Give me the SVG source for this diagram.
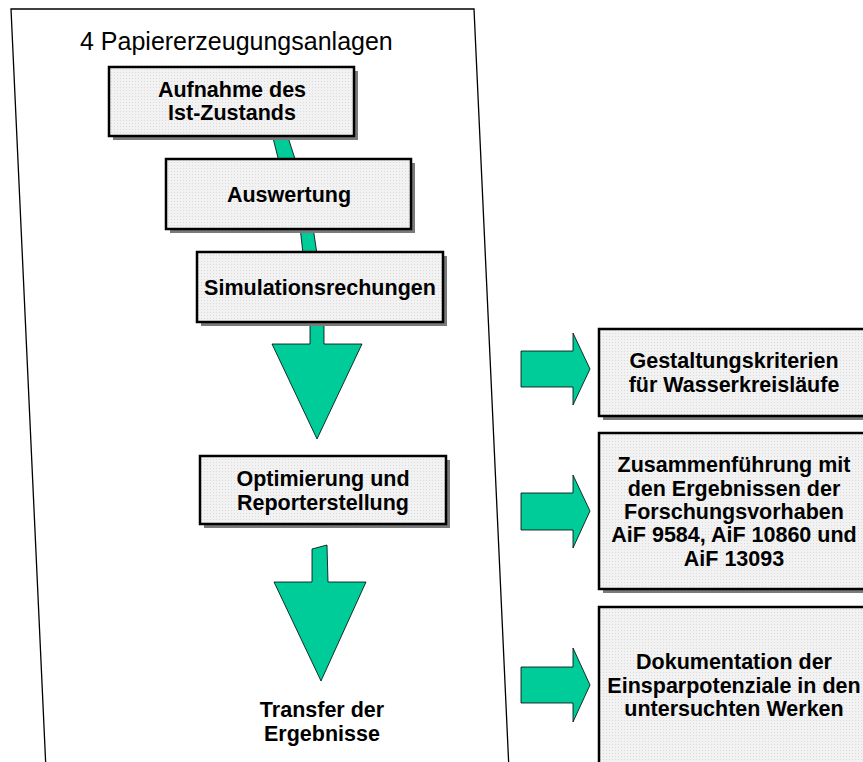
<svg xmlns="http://www.w3.org/2000/svg" width="863" height="762" viewBox="0 0 863 762">
<style>
.box{fill:#ececec;stroke:#000;stroke-width:2.5}
.shadow{fill:#7a7a7a}
.teal{fill:#00cc99;stroke:#000;stroke-width:0.8;stroke-linejoin:miter}
.lbl{font-family:"Liberation Sans",Arial,sans-serif;font-weight:bold;font-size:21.5px;text-anchor:middle;fill:#000}
.title{font-family:"Liberation Sans",Arial,sans-serif;font-size:25px;fill:#000}
</style>
<defs>
<pattern id="dots" width="3" height="3" patternUnits="userSpaceOnUse">
<rect width="3" height="3" fill="#f2f2f2"/>
<rect width="1" height="1" fill="#dcdcdc"/>
</pattern>
</defs>
<rect width="863" height="762" fill="#fff"/>
<g id="panel">
<polygon points="11,9 474,9 509,770 46,770" fill="#fff" stroke="#000" stroke-width="1.3"/>
<text class="title" x="80" y="50">4 Papiererzeugungsanlagen</text>
</g>
<g id="connectors">
<polygon class="teal" points="272,134 287,134 296,162 279,162"/>
<polygon class="teal" points="300,227 313,227 317,254 303,254"/>
<polygon class="teal" points="310,320 324,320 324,344 362,344 317,439 272,344 310,344"/>
<polygon class="teal" points="312,549 327,545 328,582 366,582 321,681 274,582 312,582"/>
<polygon class="teal" points="521,351 573,351 573,333 590,369 573,405 573,387 521,387"/>
<polygon class="teal" points="521,493 573,493 573,475 590,511 573,548 573,530 521,530"/>
<polygon class="teal" points="521,667 573,667 573,648 590,685 573,722 573,703 521,703"/>
</g>
<g id="n1">
<rect class="shadow" x="113" y="71" width="245" height="69"/>
<rect class="box" x="109" y="67" width="245" height="69" style="fill:url(#dots)"/>
<text class="lbl" x="232" y="97">Aufnahme des</text>
<text class="lbl" x="232" y="120">Ist-Zustands</text>
</g>
<g id="n2">
<rect class="shadow" x="170" y="163" width="245" height="70"/>
<rect class="box" x="166" y="159" width="245" height="70" style="fill:url(#dots)"/>
<text class="lbl" x="289" y="202">Auswertung</text>
</g>
<g id="n3">
<rect class="shadow" x="201" y="256" width="246" height="70"/>
<rect class="box" x="197" y="252" width="246" height="70" style="fill:url(#dots)"/>
<text class="lbl" x="320" y="295">Simulationsrechungen</text>
</g>
<g id="n4">
<rect class="shadow" x="204" y="460" width="246" height="68"/>
<rect class="box" x="200" y="456" width="246" height="68" style="fill:url(#dots)"/>
<text class="lbl" x="323" y="486">Optimierung und</text>
<text class="lbl" x="323" y="510">Reporterstellung</text>
</g>
<g id="n5">
<text class="lbl" x="322" y="717">Transfer der</text>
<text class="lbl" x="322" y="741">Ergebnisse</text>
</g>
<g id="r1">
<rect class="shadow" x="603" y="333" width="270" height="87"/>
<rect class="box" x="599" y="329" width="270" height="87" style="fill:url(#dots)"/>
<text class="lbl" x="734" y="368">Gestaltungskriterien</text>
<text class="lbl" x="734" y="392">für Wasserkreisläufe</text>
</g>
<g id="r2">
<rect class="shadow" x="603" y="437" width="270" height="156"/>
<rect class="box" x="599" y="433" width="270" height="156" style="fill:url(#dots)"/>
<text class="lbl" x="734" y="472">Zusammenführung mit</text>
<text class="lbl" x="734" y="496">den Ergebnissen der</text>
<text class="lbl" x="734" y="519">Forschungsvorhaben</text>
<text class="lbl" x="734" y="542">AiF 9584, AiF 10860 und</text>
<text class="lbl" x="734" y="566">AiF 13093</text>
</g>
<g id="r3">
<rect class="shadow" x="603" y="611" width="270" height="170"/>
<rect class="box" x="599" y="607" width="270" height="170" style="fill:url(#dots)"/>
<text class="lbl" x="734" y="669">Dokumentation der</text>
<text class="lbl" x="734" y="693">Einsparpotenziale in den</text>
<text class="lbl" x="734" y="716">untersuchten Werken</text>
</g>
</svg>
